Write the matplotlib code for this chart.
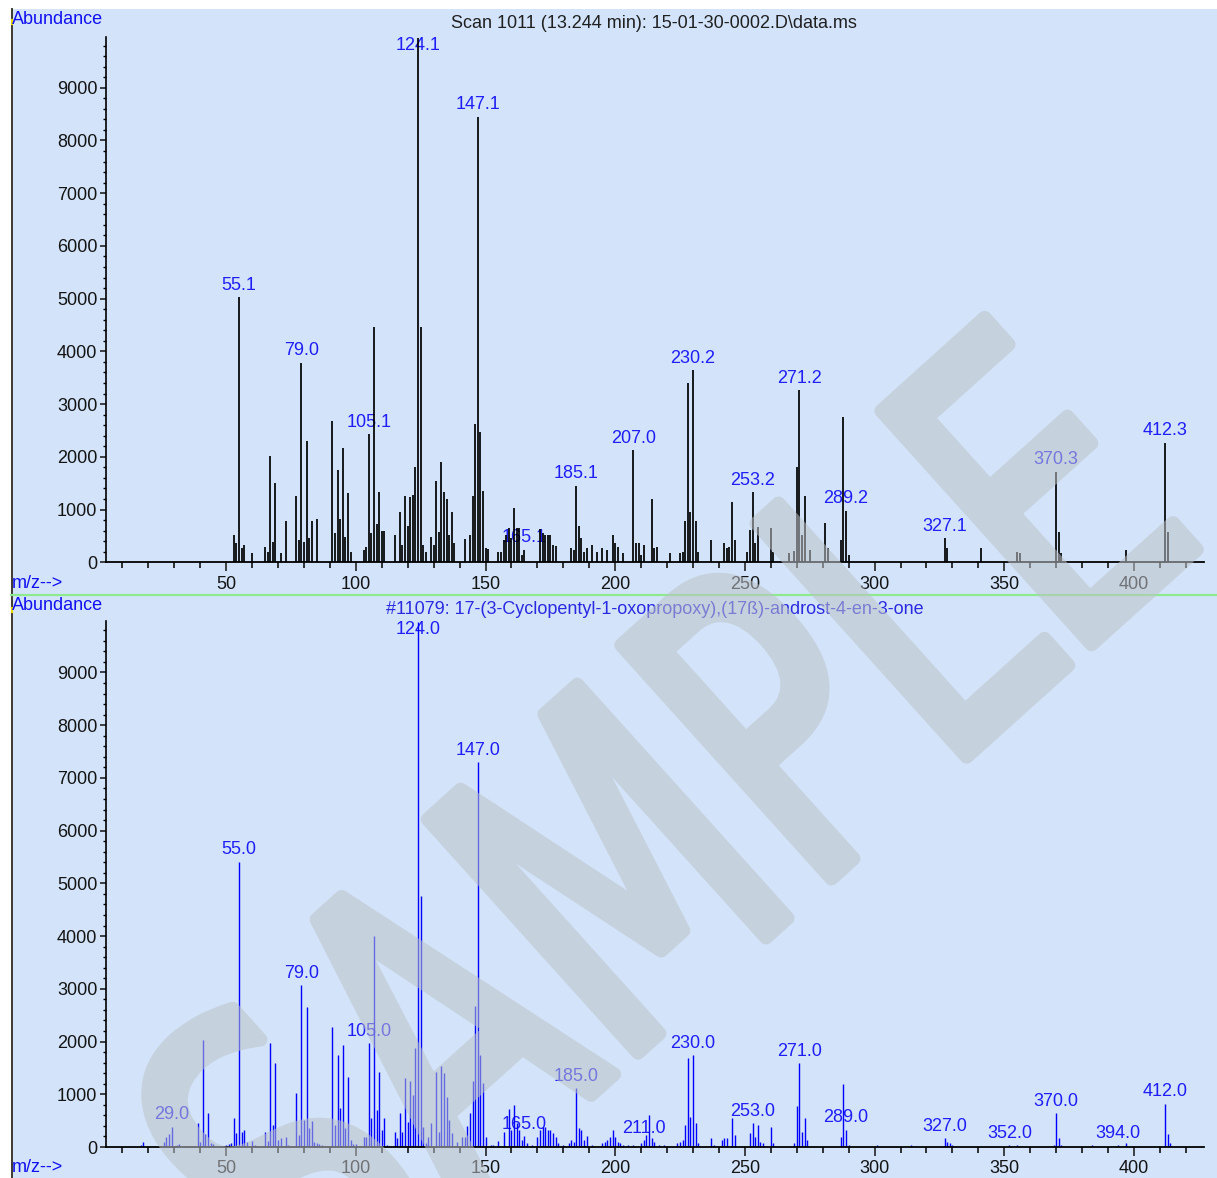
import matplotlib
matplotlib.use('Agg')
import math
import numpy as np
import matplotlib.pyplot as plt
from matplotlib.ticker import MultipleLocator
from matplotlib.patches import Rectangle
from matplotlib.lines import Line2D
from matplotlib.patheffects import AbstractPathEffect
from matplotlib.transforms import Affine2D
from matplotlib.textpath import TextPath
from matplotlib.font_manager import FontProperties
from matplotlib.colors import to_rgba

plt.rcParams['font.family'] = ['Liberation Sans', 'DejaVu Sans']

# ---------------- data ----------------
sample_title = 'Scan 1011 (13.244 min): 15-01-30-0002.D\\data.ms'
library_title = '#11079: 17-(3-Cyclopentyl-1-oxopropoxy),(17\u00df)-androst-4-en-3-one'

sample_mz = [53, 54, 55, 56, 57, 60, 65, 66, 67, 68, 69, 71, 73, 77, 78, 79, 80, 81, 82, 83, 85,
             91, 92, 93, 94, 95, 96, 97, 98, 103, 104, 105, 106, 107, 108, 109, 110, 111,
             115, 117, 118, 119, 120, 121, 122, 123, 124, 125, 126, 127, 129, 130, 131, 132,
             133, 134, 135, 136, 137, 138, 142, 144, 145, 146, 147, 148, 149, 150, 151,
             155, 156, 157, 158, 159, 160, 161, 162, 163, 164, 165, 171, 172, 173, 174, 175,
             176, 177, 183, 184, 185, 186, 187, 188, 189, 191, 193, 195, 197, 199, 200, 201,
             203, 207, 208, 209, 210, 211, 214, 215, 216, 221, 225, 226, 227, 228, 229, 230,
             231, 232, 237, 242, 243, 244, 245, 246, 251, 252, 253, 254, 255, 260, 261, 267,
             269, 270, 271, 272, 273, 275, 281, 282, 287, 288, 289, 290, 327, 328, 341, 355,
             356, 370, 371, 372, 397, 412, 413]
sample_ab = [518, 360, 5030, 265, 330, 171, 297, 202, 2016, 392, 1498, 171, 784, 1264, 423, 3786,
             392, 2300, 455, 784, 815,
             2686, 562, 1750, 815, 2174, 487, 1308, 202, 234, 297, 2427, 562, 4456, 727, 1327, 600, 600,
             518, 948, 330, 1264, 690, 1232, 1277, 1814, 9950, 4456, 330, 202, 487, 330, 1548, 580,
             1908, 1327, 1201, 518, 948, 360, 436, 518, 1264, 2623, 8450, 2465, 1359, 265, 246,
             202, 202, 423, 518, 645, 455, 1036, 645, 645, 139, 234, 625, 549, 518, 518, 518,
             328, 309, 265, 234, 1454, 690, 455, 202, 265, 330, 202, 265, 234, 518, 360, 284,
             171, 2130, 360, 360, 139, 330, 1201, 265, 297, 171, 171, 202, 784, 3394, 948, 3647,
             784, 202, 424, 360, 265, 297, 1138, 424, 202, 613, 1327, 360, 676, 645, 202, 171,
             221, 1814, 3268, 518, 1264, 234, 752, 265, 424, 2749, 980, 139, 455, 265, 265, 202,
             171, 1719, 581, 171, 234, 2269, 581]
sample_label_mz = [55, 79, 105, 124, 147, 165, 185, 207, 230, 253, 271, 289, 327, 370, 412]
sample_label_txt = ['55.1', '79.0', '105.1', '124.1', '147.1', '165.1', '185.1', '207.0', '230.2',
                    '253.2', '271.2', '289.2', '327.1', '370.3', '412.3']

library_mz = [17, 18, 26, 27, 28, 29, 30, 31, 32, 39, 40, 41, 42, 43, 44, 45, 50, 51, 52, 53, 54,
              55, 56, 57, 58, 60, 61, 65, 66, 67, 68, 69, 70, 71, 73, 74, 77, 78, 79, 80, 81, 82,
              83, 84, 85, 86, 87, 91, 92, 93, 94, 95, 96, 97, 98, 99, 100, 103, 104, 105, 106,
              107, 108, 109, 110, 111, 112, 115, 116, 117, 118, 119, 120, 121, 122, 123, 124,
              125, 126, 127, 128, 129, 131, 132, 133, 134, 135, 136, 137, 139, 141, 142, 143,
              144, 145, 146, 147, 148, 149, 150, 152, 153, 155, 157, 159, 160, 161, 162, 163,
              164, 165, 166, 168, 170, 171, 172, 173, 174, 175, 176, 177, 178, 180, 182, 183,
              184, 185, 186, 187, 188, 189, 191, 195, 196, 197, 198, 199, 200, 201, 202, 203,
              205, 207, 210, 211, 212, 213, 214, 215, 217, 219, 224, 225, 226, 227, 228, 229,
              230, 231, 232, 237, 238, 241, 242, 243, 245, 246, 252, 253, 254, 255, 256, 257,
              260, 261, 269, 270, 271, 272, 273, 274, 287, 288, 289, 290, 301, 314, 327, 328,
              329, 330, 352, 355, 369, 370, 371, 372, 384, 394, 397, 412, 413, 414]
library_ab = [38, 101, 101, 183, 246, 386, 19, 38, 57, 449, 101, 2029, 246, 638, 70, 57, 38, 57, 82,
              544, 259,
              5410, 290, 320, 100, 120, 38, 290, 120, 1966, 417, 1586, 133, 164, 196, 38, 1030, 228,
              3070, 512, 2648, 354,
              500, 101, 82, 57, 38, 2281, 417, 1744, 733, 1934, 354, 1321, 133, 57, 57, 183, 183,
              1966, 544,
              4000, 702, 1416, 322, 544, 38, 278, 164, 638, 290, 1315, 480, 1258, 986, 1871, 9950,
              4760, 386, 70, 183, 449, 1416, 290, 1542, 1410, 954, 512, 259, 101, 196, 183, 398,
              638, 1258, 2673, 7300, 1744, 1220, 196, 38, 38, 120, 290, 714, 322, 803, 461, 322,
              133, 208, 70, 38, 183, 322, 386, 386, 322, 322, 259, 196, 70, 38, 70, 133,
              101, 1115, 354, 322, 133, 208, 38, 70, 101, 133, 196, 322, 196, 101, 70, 38,
              38, 38, 70, 133, 228, 607, 164, 101, 38, 38, 70, 101, 133, 417, 1681, 575,
              1744, 449, 70, 164, 38, 133, 164, 164, 544, 228, 259, 449, 196, 417, 100, 70,
              386, 70, 70, 777, 1590, 291, 544, 133, 190, 1194, 330, 38, 38, 38, 164, 101,
              70, 38, 38, 38, 38, 638, 164, 38, 38, 38, 82, 820, 253, 70]
library_label_mz = [29, 55, 79, 105, 124, 147, 165, 185, 211, 230, 253, 271, 289, 327, 352, 370, 394, 412]
library_label_txt = ['29.0', '55.0', '79.0', '105.0', '124.0', '147.0', '165.0', '185.0', '211.0',
                     '230.0', '253.0', '271.0', '289.0', '327.0', '352.0', '370.0', '394.0', '412.0']

# ---------------- figure ----------------
W, H = 1217, 1178
fig = plt.figure(figsize=(W / 100, H / 100), dpi=100)
fig.patch.set_facecolor('white')


def fx(px):
    return px / W


def fy(py):
    return 1 - py / H


BG = '#D3E4FA'
fig.add_artist(Rectangle((fx(11), 0), 1 - fx(11), fy(9), transform=fig.transFigure,
                         facecolor=BG, edgecolor='none', zorder=-3))
fig.add_artist(Line2D([fx(11.5), fx(11.5)], [0, fy(9)], transform=fig.transFigure,
                      color='#3c3a30', lw=1.4, zorder=-1))
fig.add_artist(Line2D([fx(11), 1], [fy(595), fy(595)], transform=fig.transFigure,
                      color='#8EEA8E', lw=1.6, zorder=-1))
for yy in (22, 610):
    fig.add_artist(Line2D([fx(11.5), fx(11.5)], [fy(yy - 2), fy(yy + 2)], transform=fig.transFigure,
                          color='#E8D800', lw=1.6, zorder=-0.5))

YTOP = 9968
XMIN, XMAX = 3.5, 427
TXT = '#141414'
BLUE_TXT = '#1E1EF5'


def panel(zero_px, top_px, mz, ab, color, lw, lab_mz, lab_txt):
    ax = fig.add_axes([fx(105.5), fy(zero_px), fx(1204) - fx(105.5), fy(top_px) - fy(zero_px)])
    ax.set_facecolor('none')
    ax.set_xlim(XMIN, XMAX)
    ax.set_ylim(0, YTOP)
    for s in ('top', 'right'):
        ax.spines[s].set_visible(False)
    ax.spines['left'].set_linewidth(1.2)
    ax.spines['bottom'].set_linewidth(1.3)
    ax.vlines(mz, 0, ab, colors=color, lw=lw, zorder=2, capstyle='butt')
    ax.xaxis.set_major_locator(MultipleLocator(50))
    ax.xaxis.set_minor_locator(MultipleLocator(10))
    ax.yaxis.set_major_locator(MultipleLocator(1000))
    ax.yaxis.set_minor_locator(MultipleLocator(200))
    ax.tick_params(axis='x', which='major', direction='out', length=6.5, width=1.1, pad=3.2,
                   labelsize=13, colors=TXT)
    ax.tick_params(axis='x', which='minor', direction='out', length=4, width=1.1)
    ax.tick_params(axis='y', which='major', direction='out', length=4.3, width=1.1, pad=1.6,
                   labelsize=13, colors=TXT)
    ax.tick_params(axis='y', which='minor', direction='out', length=2.2, width=1.0)
    lookup = dict(zip(mz, ab))
    for m, t in zip(lab_mz, lab_txt):
        v = lookup[m]
        if v > 9000:
            ax.annotate(t, (m, YTOP), xytext=(0, 0), textcoords='offset points', ha='center',
                        va='top', fontsize=13, color=BLUE_TXT, zorder=1.5)
        else:
            ax.annotate(t, (m, v), xytext=(0, 2.5), textcoords='offset points', ha='center',
                        va='bottom', fontsize=13, color=BLUE_TXT, zorder=1.5)
    return ax


ax1 = panel(562.3, 36.7, sample_mz, sample_ab, 'black', 1.25, sample_label_mz, sample_label_txt)
ax2 = panel(1147, 621.4, library_mz, library_ab, '#0000FF', 1.0, library_label_mz, library_label_txt)

fig.text(fx(12), fy(20), 'Abundance', ha='left', va='center', fontsize=13, color='#1010F0')
fig.text(fx(12), fy(583), 'm/z-->', ha='left', va='center', fontsize=13, color='#1010F0')
fig.text(fx(12), fy(606), 'Abundance', ha='left', va='center', fontsize=13, color='#1010F0')
fig.text(fx(12), fy(1168), 'm/z-->', ha='left', va='center', fontsize=13, color='#1010F0')
fig.text(fx(654), fy(23), sample_title, ha='center', va='center', fontsize=13, color='#202020')
fig.text(fx(655), fy(609), library_title, ha='center', va='center', fontsize=13, color='#2a2ae0')


# ---------------- watermark ----------------
WM_COLOR = '#BCC2C8'
WM_ALPHA = 0.55


class Condensed(AbstractPathEffect):
    """Draw the glyph path narrowed along the baseline, filled and stroked with round joins."""

    def __init__(self, sx, color, lw):
        super().__init__()
        self.sx = sx
        self.rgba = to_rgba(color)
        self.lw = lw

    def draw_path(self, renderer, gc, tpath, affine, rgbFace=None):
        gc0 = renderer.new_gc()
        gc0.copy_properties(gc)
        gc0.set_linewidth(self.lw)
        gc0.set_foreground(self.rgba)
        gc0.set_alpha(1.0)
        gc0.set_joinstyle('round')
        gc0.set_capstyle('round')
        aff = Affine2D().scale(self.sx, 1.0) + affine
        renderer.draw_path(gc0, tpath, aff, self.rgba)
        gc0.restore()


def wm_filter(im, dpi):
    out = np.empty_like(im)
    rgb = to_rgba(WM_COLOR)
    out[..., 0] = rgb[0]
    out[..., 1] = rgb[1]
    out[..., 2] = rgb[2]
    out[..., 3] = im[..., 3] * WM_ALPHA
    return out, 0, 0


WM_ANGLE = 42.0
WM_FS_PX = 431.0
WM_SX = 0.70
WM_CX, WM_CY = 644.0, 836.0
wm_prop = FontProperties(family='DejaVu Sans', weight='normal')
tp = TextPath((0, 0), 'SAMPLE', size=WM_FS_PX, prop=wm_prop)
ext = tp.get_extents()
L = ext.width * WM_SX
cap = 0.729 * WM_FS_PX
th = math.radians(WM_ANGLE)
bx, by = math.cos(th), -math.sin(th)
dx, dy = math.sin(th), math.cos(th)
ax0 = WM_CX - L / 2 * bx + cap / 2 * dx
ay0 = WM_CY - L / 2 * by + cap / 2 * dy
wm = fig.text(fx(ax0), fy(ay0), 'SAMPLE', rotation=WM_ANGLE, rotation_mode='anchor', ha='left',
              va='baseline', fontsize=WM_FS_PX * 0.72, family='DejaVu Sans',
              fontweight='normal', color=WM_COLOR, zorder=10,
              path_effects=[Condensed(WM_SX, WM_COLOR, 10.0)])
wm.set_agg_filter(wm_filter)

fig.savefig('out.png', dpi=100, facecolor='white')
